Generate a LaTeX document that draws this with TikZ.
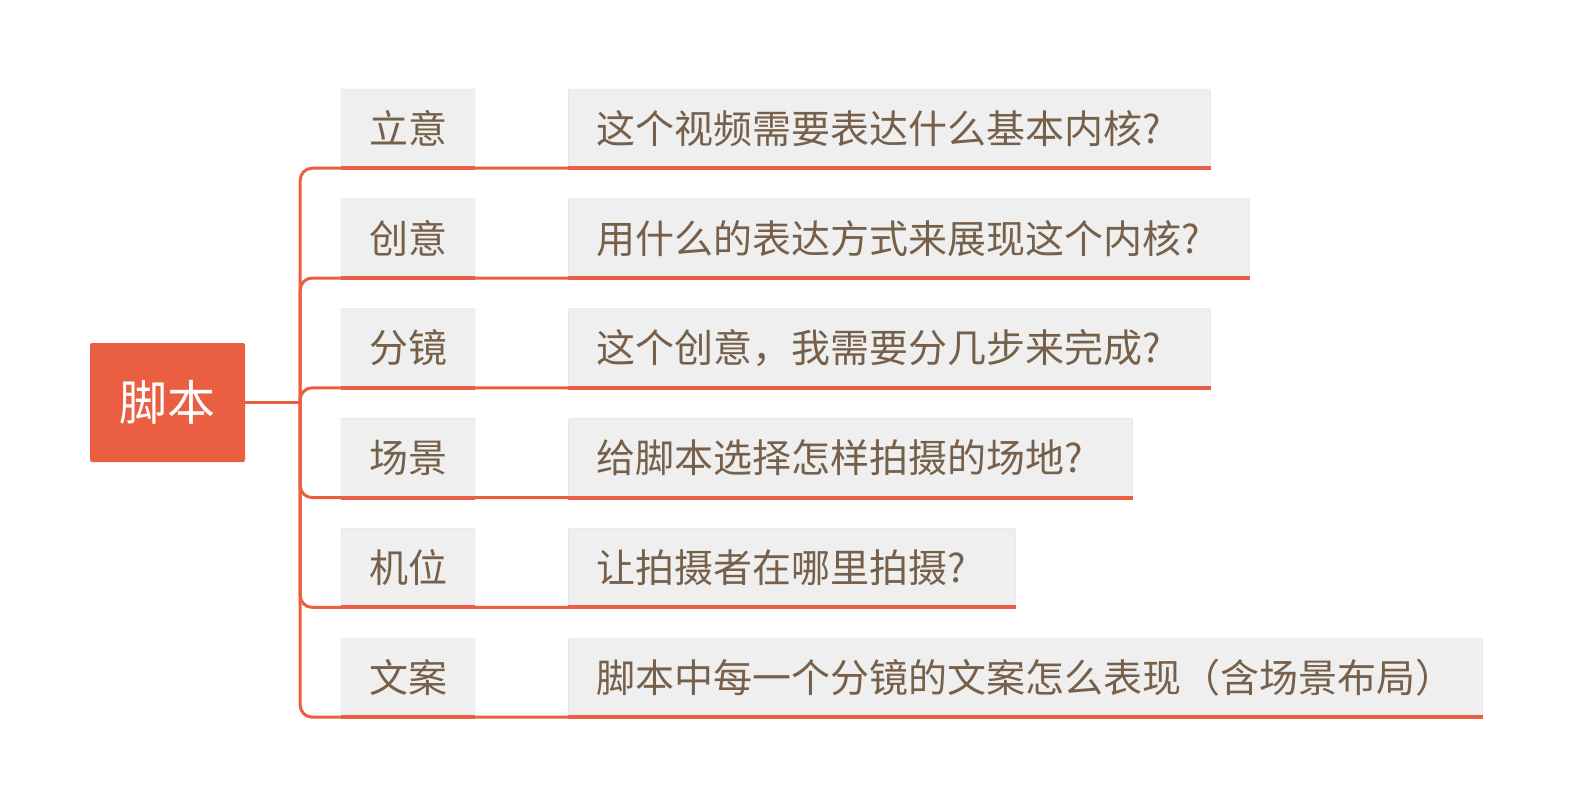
\documentclass[tikz,border=0pt]{standalone}
\usepackage{fontspec}
\setmainfont{Noto Sans CJK SC}
\usetikzlibrary{positioning}
\definecolor{mapred}{HTML}{EA5F42}
\definecolor{mapbrown}{HTML}{76604A}
\definecolor{mapgray}{HTML}{EFEFEF}
\tikzset{
x=1pt, y=-1pt, % one unit is one pixel of the picture, y runs downwards
node distance=30.4pt, % gap between two rows
root/.style={fill=mapred, text=white, minimum width=155pt, minimum height=119pt, inner sep=0pt, rounded corners=2pt, font=\fontsize{48}{56}\selectfont}, % the central topic
topic/.style={fill=mapgray, draw=black!12, text=mapbrown, minimum width=134pt, minimum height=79pt, inner sep=0pt, rounded corners=1pt, font=\fontsize{39}{46}\selectfont}, % the grey boxes
detail/.style={topic, align=left, inner xsep=28pt, text width=#1}, % the boxes on the right
}
\tikzset{
  branch/.style={draw=mapred, line width=3pt, rounded corners=12pt},
  underline/.style={draw=mapred, line width=4pt}
}

\begin{document}
\begin{tikzpicture}
      \useasboundingbox (0,0) rectangle (1572,809);

      \node[root] (root) at (167.5,402.5) {脚本};
      \coordinate[right=55pt of root.east] (hub);

      \node[topic] (c1) at (408,128.5) {立意};
      \node[topic, below=of c1] (c2) {创意};
      \node[topic, below=of c2] (c3) {分镜};
      \node[topic, below=of c3] (c4) {场景};
      \node[topic, below=of c4] (c5) {机位};
      \node[topic, below=of c5] (c6) {文案};

      \node[detail=586pt, right=93pt of c1] (d1) {这个视频需要表达什么基本内核?};
      \node[detail=625pt, right=93pt of c2] (d2) {用什么的表达方式来展现这个内核?};
      \node[detail=586pt, right=93pt of c3] (d3) {这个创意，我需要分几步来完成?};
      \node[detail=508pt, right=93pt of c4] (d4) {给脚本选择怎样拍摄的场地?};
      \node[detail=391pt, right=93pt of c5] (d5) {让拍摄者在哪里拍摄?};
      \node[detail=858pt, right=93pt of c6] (d6) {脚本中每一个分镜的文案怎么表现（含场景布局）};

      \draw[branch] (root.east) -- (hub);
      \draw[branch] (hub) |- (d1.south east);
      \draw[branch] (hub) |- (d2.south east);
      \draw[branch] (hub) |- (d3.south east);
      \draw[branch] (hub) |- (d4.south east);
      \draw[branch] (hub) |- (d5.south east);
      \draw[branch] (hub) |- (d6.south east);

      \draw[underline] (c1.south west) -- (c1.south east)
      (c2.south west) -- (c2.south east)
      (c3.south west) -- (c3.south east)
      (c4.south west) -- (c4.south east)
      (c5.south west) -- (c5.south east)
      (c6.south west) -- (c6.south east)
      (d1.south west) -- (d1.south east)
      (d2.south west) -- (d2.south east)
      (d3.south west) -- (d3.south east)
      (d4.south west) -- (d4.south east)
      (d5.south west) -- (d5.south east)
      (d6.south west) -- (d6.south east);
    \end{tikzpicture}
\end{document}
